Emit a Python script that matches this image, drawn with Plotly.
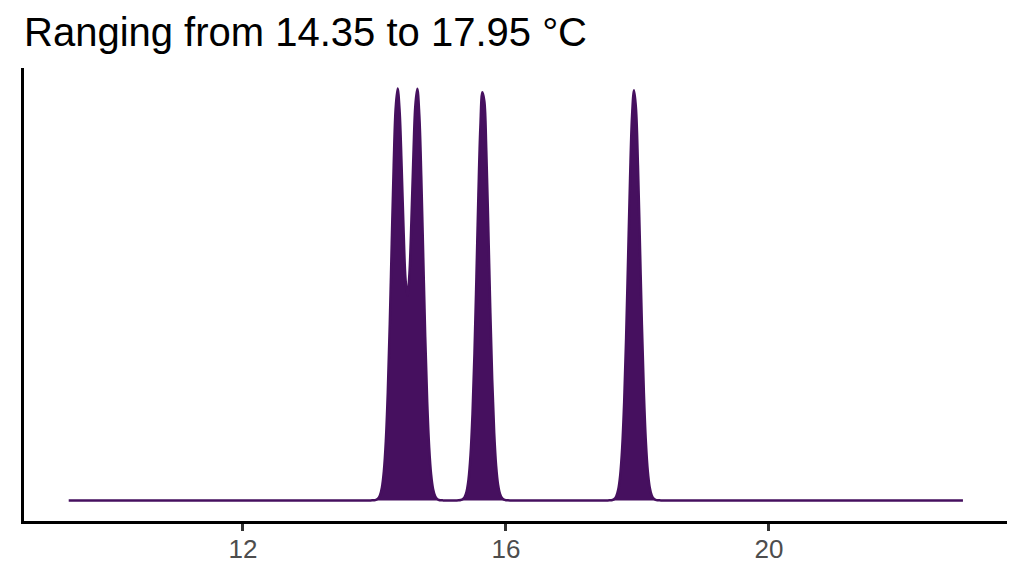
import plotly.graph_objects as go

# temperaturas observadas (°C)
temps = [14.35, 14.65, 15.65, 17.95]
span_lo = 9.35
span_hi = 22.95
tick_vals = [12, 16, 20]
tick_text = ["12", "16", "20"]
titulo = "Ranging from 14.35 to 17.95 °C"

cor = "#46105F"

fig = go.Figure()
fig.add_trace(go.Violin(
    x=temps, y0=0, orientation="h", side="positive",
    bandwidth=0.09, spanmode="manual", span=[span_lo, span_hi],
    scalemode="width", width=2, points=False,
    fillcolor=cor, line=dict(color=cor, width=2.5),
    opacity=1, showlegend=False, hoverinfo="skip",
))

# a página tem ~8px de margem no body, compensar aqui
fig.update_layout(
    width=1024, height=576,
    margin=dict(l=16, r=25, t=60, b=63),
    plot_bgcolor="white", paper_bgcolor="white",
    font=dict(family="Liberation Sans, Arial, sans-serif"),
    title=dict(text=titulo, x=0, xref="paper", xanchor="left",
               y=1 - 24 / 576, yref="container", yanchor="middle",
               font=dict(size=40, color="black")),
)
fig.update_xaxes(
    range=[8.67, 23.62], tickvals=tick_vals, ticktext=tick_text,
    showline=True, linecolor="black", linewidth=2.5,
    ticks="outside", ticklen=7, tickwidth=2.5, tickcolor="#333333",
    ticklabelstandoff=-4,
    tickfont=dict(size=26, color="#4D4D4D"),
    showgrid=False, zeroline=False,
)
fig.update_yaxes(
    type="linear", range=[-0.05, 1.05],
    showline=True, linecolor="black", linewidth=2.5,
    ticks="", showticklabels=False, showgrid=False, zeroline=False,
)

fig.write_html("out.html")
